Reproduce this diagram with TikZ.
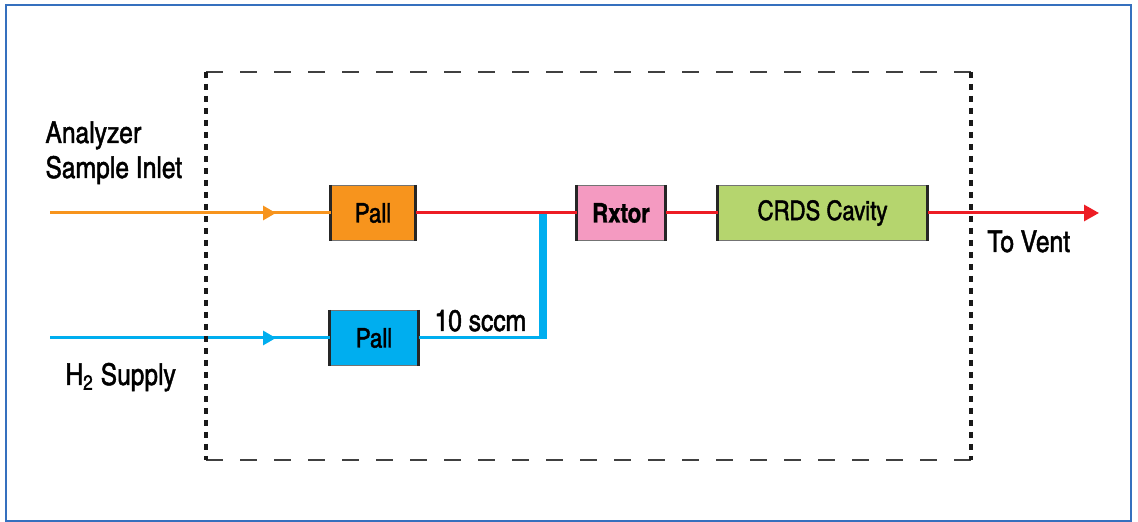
\documentclass[tikz,border=0pt]{standalone}
\usepackage{fontspec}
\setmainfont{texgyreheroscn}[Extension=.otf,UprightFont=*-regular,BoldFont=*-bold,UprightFeatures={FakeBold=1.5},BoldFeatures={FakeBold=1}]
\usetikzlibrary{arrows.meta}
\definecolor{frameblue}{HTML}{3570BE}
\definecolor{lineorange}{HTML}{F7941D}
\definecolor{linered}{HTML}{ED1C24}
\definecolor{h2blue}{HTML}{00AEEF}
\definecolor{rxpink}{HTML}{F49AC1}
\definecolor{crdsgreen}{HTML}{B5D56E}
\tikzset{unit/.style={draw=black!55,line width=.5pt,minimum height=27.5pt,inner sep=0pt,font=\fontsize{13.5}{15}\selectfont},
  lbl/.style={font=\fontsize{15}{17.5}\selectfont,inner sep=0pt},
  flowtip/.style={-{Triangle[length=6.5pt,width=7pt]}}}
\begin{document}
\begin{tikzpicture}[x=.5pt,y=-.5pt,line width=1.5pt]
\useasboundingbox (0,0) rectangle (1138,522);
\draw[frameblue,line width=1pt] (6,5) rectangle (1131,521);
\node[unit,fill=lineorange,minimum width=42pt] (pallA) at (373,213) {Pall};
\node[unit,fill=h2blue,minimum width=44pt] (pallH) at (374,338) {Pall};
\node[unit,fill=rxpink,minimum width=44pt,font=\fontsize{13.5}{15}\selectfont\bfseries] (rxtor) at (621,213) {Rxtor};
\node[unit,fill=crdsgreen,minimum width=104.5pt] (crds) at (822.5,213) {CRDS Cavity};
\foreach \n in {pallA,pallH,rxtor,crds} \draw[black!85] (\n.north west)--(\n.south west) (\n.north east)--(\n.south east);
\coordinate (inA) at (50,213); \coordinate (tipA) at (276,213);
\coordinate (inH) at (50,338); \coordinate (tipH) at (276,338);
\coordinate (tee) at (542.5,213); \coordinate (vent) at (1099,213);
\draw[lineorange] (inA)--(pallA.west); \draw[lineorange,flowtip] (inA)--(tipA);
\draw[h2blue] (inH)--(pallH.west); \draw[h2blue,flowtip] (inH)--(tipH);
\draw[h2blue,shorten >=-2pt] (pallH.east)--(tee|-pallH.east);
\draw[h2blue,line width=4pt,shorten <=-.75pt] (tee|-pallH.east)--(tee);
\draw[linered] (pallA.east)--(rxtor.west) (rxtor.east)--(crds.west);
\draw[linered,-{Triangle[length=7.5pt,width=8pt]}] (crds.east)--(vent);
\draw[black!75,line width=1pt,dash pattern=on 8.5pt off 8.5pt] (206,72)--(971,72) (206,460)--(971,460);
\draw[black!90,line width=2.2pt,dash pattern=on 3pt off 3pt] (206,72)--(206,460) (971,72)--(971,460);
\node[lbl,anchor=base west,align=left] (inlet) at (44,178) {Analyzer\\Sample Inlet};
\node[lbl,anchor=base west] (supply) at (64,385) {H\textsubscript{2} Supply};
\node[lbl,anchor=base west] (flow) at (433,331) {10 sccm};
\node[lbl,anchor=base west] (ventlbl) at (986,252) {To Vent};
\end{tikzpicture}
\end{document}
